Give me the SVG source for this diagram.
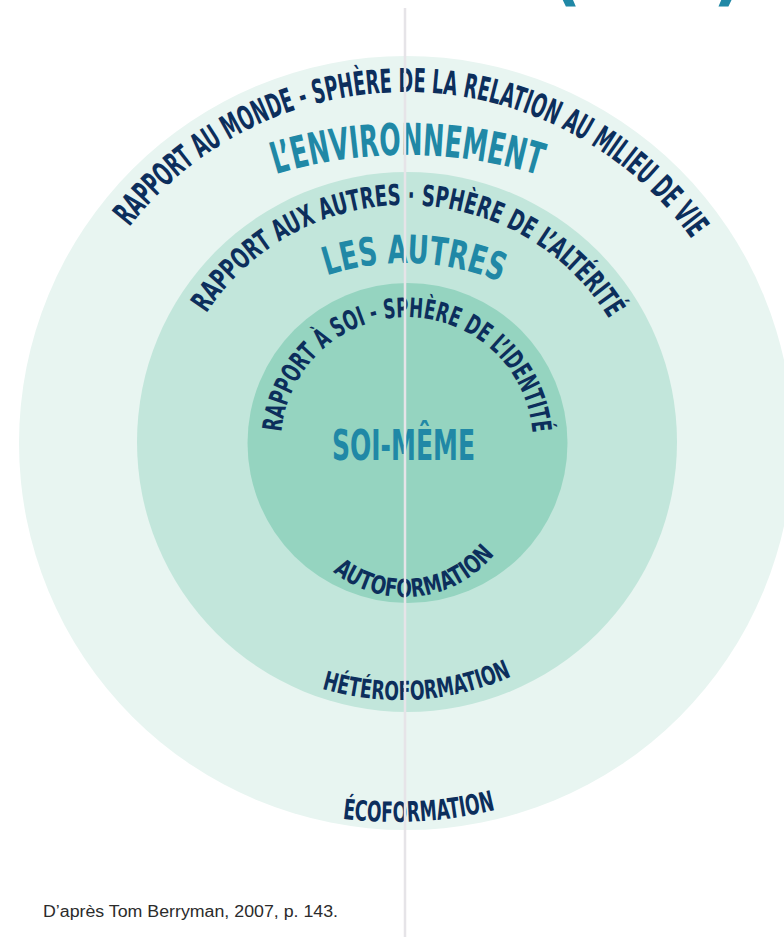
<svg xmlns="http://www.w3.org/2000/svg" width="784" height="937" viewBox="0 0 784 937">
<style>
.ring1{fill:#e8f5f1}
.ring2{fill:#c2e6db}
.ring3{fill:#95d4c0}
.arc{fill:#0c2e5c;font-family:"DejaVu Sans Condensed","DejaVu Sans",sans-serif;font-weight:bold}
.title{fill:#2088a6;font-family:"DejaVu Sans Condensed","DejaVu Sans",sans-serif;font-weight:bold}
.cap{fill:#2b2b2b;font-family:"Liberation Sans",Arial,sans-serif}
</style>
<defs>
<path id="p-outer" d="M 129.4 226.9 A 351 351 0 0 1 691.4 238.7"/>
<path id="p-env" d="M 275.9 174.2 A 450 450 0 0 1 539.1 175.1"/>
<path id="p-mid" d="M 206.4 313.4 A 238 238 0 0 1 608.9 318.6"/>
<path id="p-autres" d="M 326.9 275.5 A 250 250 0 0 1 499.9 281.7"/>
<path id="p-inner" d="M 281.5 432 A 126 126 0 0 1 532.5 432"/>
<path id="p-auto" d="M 332.9 571.6 A 115 115 0 0 0 494.4 554.4"/>
<path id="p-hetero" d="M 321.9 688.7 A 275 275 0 0 0 511.8 676.2"/>
<path id="p-eco" d="M 342.4 818.7 A 420 420 0 0 0 495.2 809.9"/>
</defs>
<rect width="784" height="937" fill="#ffffff"/>
<g id="title-fragment">
<text class="title" x="550" y="-4" font-size="76" fill="#2a95a8">(</text>
<text class="title" x="713" y="-4" font-size="76" fill="#2a95a8">)</text>
</g>
<g id="environnement">
<circle class="ring1" cx="406" cy="443" r="387"/>
<text class="arc" font-size="33"><textPath href="#p-outer" textLength="652" lengthAdjust="spacingAndGlyphs">RAPPORT AU MONDE  -  SPHÈRE DE LA RELATION AU MILIEU DE VIE</textPath></text>
<text class="title" font-size="44"><textPath href="#p-env" textLength="267" lengthAdjust="spacingAndGlyphs">L’ENVIRONNEMENT</textPath></text>
<text class="arc" font-size="28"><textPath href="#p-eco" textLength="154" lengthAdjust="spacingAndGlyphs">ÉCOFORMATION</textPath></text>
</g>
<g id="autres">
<circle class="ring2" cx="407" cy="442" r="270"/>
<text class="arc" font-size="29"><textPath href="#p-mid" textLength="480" lengthAdjust="spacingAndGlyphs">RAPPORT AUX AUTRES  ·  SPHÈRE DE L’ALTÉRITÉ</textPath></text>
<text class="title" font-size="39"><textPath href="#p-autres" textLength="177" lengthAdjust="spacingAndGlyphs">LES AUTRES</textPath></text>
<text class="arc" font-size="26"><textPath href="#p-hetero" textLength="194" lengthAdjust="spacingAndGlyphs">HÉTÉROFORMATION</textPath></text>
</g>
<g id="soi-meme">
<circle class="ring3" cx="407.5" cy="443" r="160"/>
<text class="arc" font-size="27"><textPath href="#p-inner" textLength="374" lengthAdjust="spacingAndGlyphs">RAPPORT À SOI - SPHÈRE DE L’IDENTITÉ</textPath></text>
<text class="title" x="332" y="460" font-size="42" textLength="143" lengthAdjust="spacingAndGlyphs">SOI-MÊME</text>
<text class="arc" font-size="25"><textPath href="#p-auto" textLength="180" lengthAdjust="spacingAndGlyphs">AUTOFORMATION</textPath></text>
</g>
<g id="connectors">
<line x1="405" y1="8" x2="405" y2="937" stroke="#e6e4e8" stroke-width="2.5"/>
</g>
<g id="caption">
<text class="cap" x="43" y="917" font-size="16" textLength="295" lengthAdjust="spacingAndGlyphs">D’après Tom Berryman, 2007, p. 143.</text>
</g>
</svg>
